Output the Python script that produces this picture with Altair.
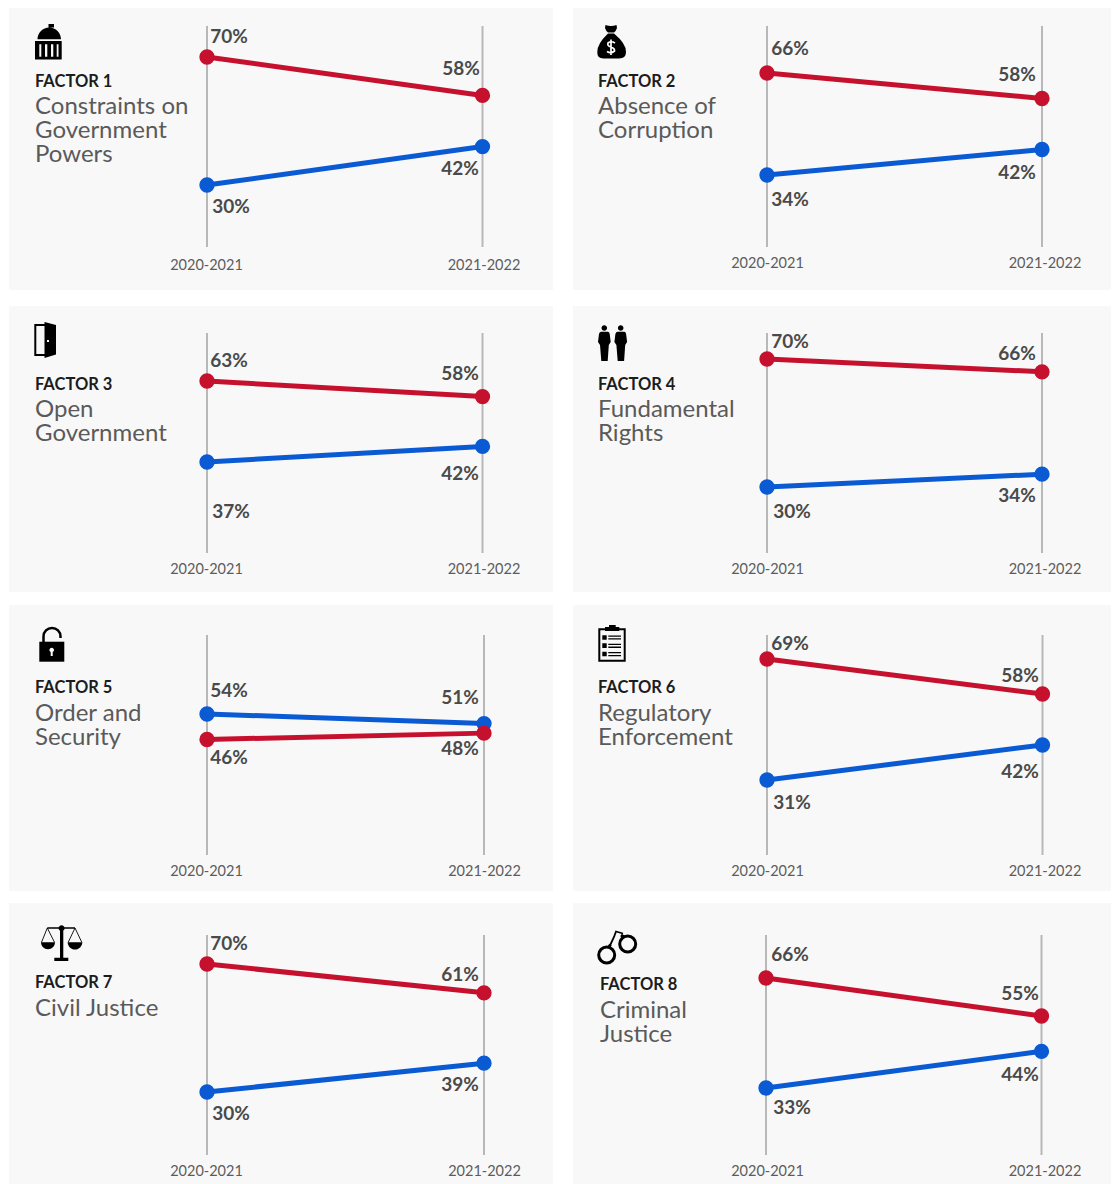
import altair as alt
import pandas as pd

PERIODS = ["2020-2021", "2021-2022"]
SERIES = ["Series A", "Series B"]
SERIES_COLORS = ["#0a5ad4", "#c6112e"]
FACTORS = ["FACTOR 1", "FACTOR 2", "FACTOR 3", "FACTOR 4", "FACTOR 5", "FACTOR 6", "FACTOR 7", "FACTOR 8"]
TITLES = [
    ["Constraints on", "Government", "Powers"],
    ["Absence of", "Corruption"],
    ["Open", "Government"],
    ["Fundamental", "Rights"],
    ["Order and", "Security"],
    ["Regulatory", "Enforcement"],
    ["Civil Justice"],
    ["Criminal", "Justice"],
]
BLUE = [[30, 42], [34, 42], [37, 42], [30, 34], [54, 51], [31, 42], [30, 39], [33, 44]]
RED = [[70, 58], [66, 58], [63, 58], [70, 66], [46, 48], [69, 58], [70, 61], [66, 54.6]]

# ---- layout (page pixels) -------------------------------------------------
BG = "#f8f8f8"
PANEL_LEFT = [9, 573, 9, 573, 9, 573, 9, 573]
PANEL_TOP = [8, 8, 306, 306, 605, 605, 903, 903]
PANEL_W = [544, 538] * 4
PANEL_H = [282, 282, 286, 286, 286, 286, 281, 281]
RULE_X = [(207, 482.5), (767, 1042), (207, 482.5), (767, 1042), (207, 484), (767, 1042.5), (207, 484), (766, 1041.5)]
RULE_Y = [(26, 247), (26, 247), (333, 553), (333, 553), (635, 855), (635, 855), (935, 1155), (935, 1155)]
# pixel rows of the first-period blue and red values, which fix each y scale
ANCHOR_Y = [(185, 57), (175, 73), (462, 381), (487, 359), (714, 739.5), (780, 659), (1092, 964), (1088, 978)]
XLABEL_Y = [265, 263, 569, 569, 871, 871, 1171, 1171]
XLABEL_SHIFT = [(-1, 1), (0, 2.5), (-1, 1), (0, 2.5), (-1, 0), (0, 2), (-1, 0), (1, 3)]
# (x, y) label centres: blue first, blue second, red first, red second
LABEL_POS = [
    [(231, 207), (460, 169), (229, 37), (461, 69)],
    [(790, 200), (1017, 173), (790, 49), (1017, 75)],
    [(231, 512), (460, 474), (229, 361), (460, 374)],
    [(792, 512), (1017, 496), (790, 342), (1017, 354)],
    [(229, 691), (460, 698), (229, 758), (460, 749)],
    [(792, 803), (1020, 772), (790, 644), (1020, 676)],
    [(231, 1114), (460, 1085), (229, 944), (460, 975)],
    [(792, 1108), (1020, 1075), (790, 955), (1020, 994)],
]
TEXT_X = [35, 598, 35, 598, 35, 598, 35, 600]
FACTOR_Y = [81.5, 81.5, 384.5, 384.5, 687.5, 687.5, 982.5, 984.5]
TITLE_Y = [107, 107, 410, 410, 714, 714, 1009, 1011]
ICON_ORIGIN = [(20, 10), (585, 10), (20, 315), (585, 315), (20, 615), (585, 615), (30, 915), (590, 920)]


def box(x0, y0, x1, y1):
    return f"M{x0},{y0}L{x1},{y0}L{x1},{y1}L{x0},{y1}Z"


def disc(cx, cy, r):
    return f"M{cx - r},{cy}A{r},{r} 0 1 1 {cx + r},{cy}A{r},{r} 0 1 1 {cx - r},{cy}Z"


def person(d):
    return (
        f"M{16 + d},16.7L{23 + d},16.7Q{24.5 + d},17 {24.7 + d},19L{25.7 + d},27L{23.8 + d},30"
        f"L{22.7 + d},46L{16.3 + d},46L{15 + d},30L{13 + d},27L{14 + d},19Q{14.3 + d},17 {16 + d},16.7Z"
    )


K = "#000000"
# each part: (kind, path, colour, stroke width); paths are in icon-local pixels
ICONS = [
    [
        ("fill", box(28.5, 14, 34, 17.5) + "M17.5,29.2A11.7,11.7 0 0 1 41,29.2Z" + box(15, 31, 41.7, 49.5), K, 0),
        ("fill", box(19.3, 34.3, 21.3, 46.7) + box(25, 34.3, 27.3, 46.7) + box(31, 34.3, 33.3, 46.7) + box(36.7, 34.3, 38.5, 46.7), BG, 0),
    ],
    [
        ("fill", "M20.5,15Q26,17 31.5,15L32,18Q31,21 29,22.5L23,22.5Q21,21 20,18Z"
                 "M23,23.5L29,23.5Q41.5,34 41,42Q41,48.5 34,48.5L18.5,48.5Q12,48.5 12.3,42Q12,34 23,23.5Z", K, 0),
        ("line", "M30,33Q26,30.5 23,33Q22,36 26,37Q30,38.5 29.5,41Q26,44 22,41.5M26,29.5L26,45", "#ffffff", 1.7),
    ],
    [
        ("line", "M25,10L15.3,10L15.3,40L25,40", K, 2),
        ("fill", "M24.5,7L36,10L36,39.5L24.5,43Z", K, 0),
        ("fill", box(27, 25, 29, 27), "#ffffff", 0),
    ],
    [
        ("fill", disc(19.3, 13, 2.8) + person(0) + disc(35.7, 13, 2.8) + person(16.4), K, 0),
    ],
    [
        ("line", "M23.5,27L23.5,21.5A8.5,8.5 0 0 1 40.5,21.5L40.5,23", K, 2.5),
        ("fill", box(19.3, 26.7, 44.3, 46.7), K, 0),
        ("fill", disc(31.7, 35, 2.3) + box(30.7, 35, 32.7, 41), "#ffffff", 0),
    ],
    [
        ("line", box(14.3, 14.3, 39.7, 45.7), K, 2),
        ("fill", box(20, 12, 34.3, 16) + box(24, 10, 30.7, 12), K, 0),
        ("fill", box(17.3, 20.3, 21.7, 24.7) + box(17.3, 28.3, 21.7, 33) + box(17.3, 36.7, 21.7, 41.3), K, 0),
        ("fill", box(23.3, 20.4, 36, 21.7) + box(23.3, 23.3, 36, 24.6) + box(23.3, 28.7, 36, 30)
                 + box(23.3, 31.6, 36, 32.9) + box(23.3, 37, 36, 38.3) + box(23.3, 40, 36, 41.3), K, 0),
    ],
    [
        ("fill", box(17.3, 12.3, 45, 13.8) + disc(31.6, 13.3, 3) + box(30, 13, 33.3, 42.7) + box(24.3, 42.7, 38.3, 46), K, 0),
        ("fill", "M11,27.3L25,27.3A7,7 0 0 1 11,27.3Z" + "M37.7,27.3L52.3,27.3A7.3,7.3 0 0 1 37.7,27.3Z", K, 0),
        ("line", "M11.5,27.3L17.3,13L24.5,27.3M38.2,27.3L45,13L51.8,27.3", K, 0.9),
    ],
    [
        ("line", disc(16.7, 35, 8) + disc(37.7, 24, 8), K, 3),
        ("line", "M19.5,26.5L24,17L26,11.5L33,13.5", K, 1.8),
        ("line", "M18.5,27.5L20.5,24.5M31,15L34,17", K, 3),
    ],
]


def icon_layers(i):
    ox, oy = ICON_ORIGIN[i]
    enc = dict(x=alt.value(ox - PANEL_LEFT[i]), y=alt.value(oy - PANEL_TOP[i]))
    one = alt.Data(values=[{"icon": FACTORS[i]}])
    layers = []
    for kind, path, colour, sw in ICONS[i]:
        if kind == "fill":
            mark = alt.Chart(one).mark_point(shape=path, size=4, filled=True, fill=colour, stroke=None, opacity=1)
        else:
            mark = alt.Chart(one).mark_point(shape=path, size=4, filled=False, stroke=colour, strokeWidth=sw, opacity=1)
        layers.append(mark.encode(**enc))
    return layers


def panel(i):
    left, top = PANEL_LEFT[i], PANEL_TOP[i]
    w, h = PANEL_W[i], PANEL_H[i]
    x_range = [RULE_X[i][0] - left, RULE_X[i][1] - left]
    y_range = [ANCHOR_Y[i][0] - top, ANCHOR_Y[i][1] - top]
    x_scale = alt.Scale(type="point", domain=PERIODS, range=x_range, padding=0)
    y_scale = alt.Scale(domain=[BLUE[i][0], RED[i][0]], range=y_range, zero=False, nice=False)
    color = alt.Color("series:N", scale=alt.Scale(domain=SERIES, range=SERIES_COLORS), legend=None)

    rows = []
    for s, vals in zip(SERIES, (BLUE[i], RED[i])):
        for p, v in zip(PERIODS, vals):
            rows.append({"period": p, "series": s, "value": v})
    df = pd.DataFrame(rows)
    periods_df = pd.DataFrame({"period": PERIODS})

    sa, sb = XLABEL_SHIFT[i]
    x_axis = alt.Axis(
        title=None, domain=False, ticks=False, grid=False, labelAngle=0,
        labelFont="Lato", labelFontSize=14.5, labelColor="#5c5c5c",
        labelBaseline="middle", labelPadding=0, labelFlush=False,
        labelOverlap=False, labelBound=False,
        offset=XLABEL_Y[i] - top - h,
        labelOffset={"condition": {"test": f"datum.value === '{PERIODS[0]}'", "value": sa}, "value": sb},
    )
    x_enc = alt.X("period:N", scale=x_scale, sort=PERIODS, axis=x_axis)
    y_enc = alt.Y("value:Q", scale=y_scale, axis=None)

    rule = alt.Chart(periods_df).mark_rule(color="#b8b8b8", strokeWidth=2).encode(
        x=x_enc,
        y=alt.value(RULE_Y[i][0] - top),
        y2=alt.value(RULE_Y[i][1] - top),
    )
    line = alt.Chart(df).mark_line(strokeWidth=5).encode(x=x_enc, y=y_enc, color=color, detail="series:N")
    dots = alt.Chart(df).mark_point(filled=True, size=235, opacity=1).encode(x=x_enc, y=y_enc, color=color)

    labels = []
    for k, row in enumerate(rows):
        lx, ly = LABEL_POS[i][k]
        px = RULE_X[i][0] if row["period"] == PERIODS[0] else RULE_X[i][1]
        lo_v, hi_v = BLUE[i][0], RED[i][0]
        py = ANCHOR_Y[i][0] + (row["value"] - lo_v) * (ANCHOR_Y[i][1] - ANCHOR_Y[i][0]) / (hi_v - lo_v)
        labels.append(alt.Chart(pd.DataFrame([{**row, "label": f"{round(row['value'])}%"}])).mark_text(
            font="Lato", fontSize=19, fontWeight="bold", color="#4a4a4a",
            align="center", baseline="middle", dx=lx - px, dy=ly - py,
        ).encode(x=x_enc, y=y_enc, text="label:N"))

    tx = TEXT_X[i] - left
    factor = alt.Chart(alt.Data(values=[{"t": FACTORS[i]}])).mark_text(
        font="Lato", fontSize=16.5, fontWeight="bold", color="#1c1c1c", align="left", baseline="middle",
    ).encode(x=alt.value(tx), y=alt.value(FACTOR_Y[i] - top), text="t:N")

    title_lines = []
    for n, t in enumerate(TITLES[i]):
        title_lines.append(
            alt.Chart(alt.Data(values=[{"t": t}])).mark_text(
                font="Lato", fontSize=24, fontWeight=400, color="#5a5a5a", align="left", baseline="middle",
            ).encode(x=alt.value(tx), y=alt.value(TITLE_Y[i] - top + 24 * n), text="t:N")
        )

    return alt.layer(rule, line, dots, *labels, factor, *title_lines, *icon_layers(i)).properties(width=w, height=h)


rows = [alt.hconcat(panel(a), panel(a + 1), spacing=20) for a in (0, 2, 4, 6)]
chart = alt.vconcat(
    alt.vconcat(
        alt.vconcat(rows[0], rows[1], spacing=16),
        rows[2],
        spacing=13,
    ),
    rows[3],
    spacing=12,
).properties(
    padding={"left": 1, "top": 0, "right": 0, "bottom": 0},
    background="#ffffff",
).configure_view(fill=BG, stroke=None)

chart.save("out.html", embed_options={"renderer": "svg", "actions": False})
